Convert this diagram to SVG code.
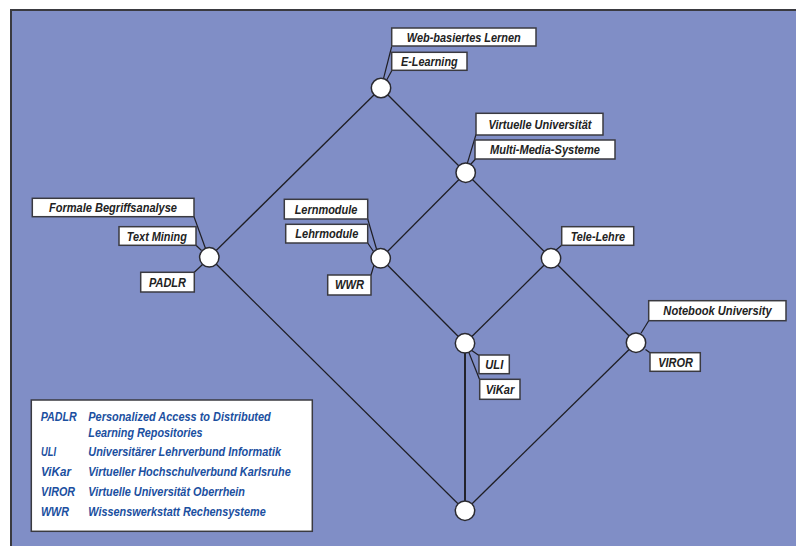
<svg xmlns="http://www.w3.org/2000/svg" width="796" height="546" viewBox="0 0 796 546">
<style>
.bg{fill:#808EC6;stroke:none}
.frame{stroke:#3a3a40;stroke-width:2;fill:none}
.edge{stroke:#1e1e24;stroke-width:1.3;fill:none}
.lead{stroke:#1e1e24;stroke-width:1.2;fill:none}
.node{fill:#fff;stroke:#2a2a30;stroke-width:1.5}
.box{fill:#fff;stroke:#3a3a40;stroke-width:1.5}
.lbl{font-family:"Liberation Sans",Arial,sans-serif;font-weight:bold;font-style:italic;font-size:12px;fill:#222;text-anchor:middle}
.leg{font-family:"Liberation Sans",Arial,sans-serif;font-weight:bold;font-style:italic;font-size:12px;fill:#1B4FA0}
</style>
<rect class="bg" x="11" y="10" width="790" height="540"/>
<path class="frame" d="M11,546 L11,10 L796,10"/>

<g id="connectors">
<line class="edge" x1="381" y1="88" x2="209.3" y2="257.3"/>
<line class="edge" x1="381" y1="88" x2="465.7" y2="172.7"/>
<line class="edge" x1="465.7" y1="172.7" x2="380.7" y2="258.3"/>
<line class="edge" x1="465.7" y1="172.7" x2="551" y2="258.3"/>
<line class="edge" x1="209.3" y1="257.3" x2="465" y2="510.7"/>
<line class="edge" x1="380.7" y1="258.3" x2="465" y2="343.3"/>
<line class="edge" x1="551" y1="258.3" x2="465" y2="343.3"/>
<line class="edge" x1="551" y1="258.3" x2="636" y2="342.7"/>
<line class="edge" x1="465" y1="343.3" x2="465" y2="510.7" style="stroke-width:1.9"/>
<line class="edge" x1="636" y1="342.7" x2="465" y2="510.7"/>
</g>

<g id="node-top">
<line class="lead" x1="383.3" y1="79.3" x2="391.7" y2="46.5"/>
<line class="lead" x1="386.7" y1="80" x2="392" y2="70.3"/>
<circle class="node" cx="381" cy="88" r="9.7"/>
<rect class="box" x="391.7" y="28" width="144.3" height="18"/>
<text class="lbl" x="463.8" y="41.5" textLength="114" lengthAdjust="spacingAndGlyphs">Web-basiertes Lernen</text>
<rect class="box" x="391.7" y="52.3" width="75.3" height="18"/>
<text class="lbl" x="429.3" y="65.8" textLength="56.7" lengthAdjust="spacingAndGlyphs">E-Learning</text>
</g>

<g id="node-mms">
<line class="lead" x1="467.3" y1="163.3" x2="476" y2="134.5"/>
<line class="lead" x1="470.5" y1="164.5" x2="475.5" y2="159"/>
<circle class="node" cx="465.7" cy="172.7" r="9.7"/>
<rect class="box" x="476" y="113.3" width="127" height="21.7"/>
<text class="lbl" x="540" y="128.5" textLength="103" lengthAdjust="spacingAndGlyphs">Virtuelle Universität</text>
<rect class="box" x="475" y="140" width="140" height="19"/>
<text class="lbl" x="545" y="153.8" textLength="110" lengthAdjust="spacingAndGlyphs">Multi-Media-Systeme</text>
</g>

<g id="node-fba">
<line class="lead" x1="194" y1="216.7" x2="205.5" y2="248.5"/>
<line class="lead" x1="196" y1="245.3" x2="201.5" y2="250.5"/>
<line class="lead" x1="202.5" y1="264.5" x2="194.3" y2="272.3"/>
<circle class="node" cx="209.3" cy="257.3" r="9.7"/>
<rect class="box" x="32.3" y="198.3" width="161.7" height="18.4"/>
<text class="lbl" x="113" y="212" textLength="128" lengthAdjust="spacingAndGlyphs">Formale Begriffsanalyse</text>
<rect class="box" x="119" y="226.7" width="77" height="18.6"/>
<text class="lbl" x="156.8" y="240.5" textLength="60" lengthAdjust="spacingAndGlyphs">Text Mining</text>
<rect class="box" x="140.7" y="272.3" width="53.6" height="19.7"/>
<text class="lbl" x="167.5" y="286.5" textLength="37" lengthAdjust="spacingAndGlyphs">PADLR</text>
</g>

<g id="node-lern">
<line class="lead" x1="367.7" y1="219" x2="376.5" y2="249"/>
<line class="lead" x1="367.7" y1="243" x2="373.5" y2="251.5"/>
<line class="lead" x1="374" y1="265" x2="371" y2="275"/>
<circle class="node" cx="380.7" cy="258.3" r="9.7"/>
<rect class="box" x="284.3" y="199.3" width="83.4" height="19.7"/>
<text class="lbl" x="326" y="213.5" textLength="62.7" lengthAdjust="spacingAndGlyphs">Lernmodule</text>
<rect class="box" x="285.7" y="224.3" width="82" height="18.7"/>
<text class="lbl" x="326.8" y="238" textLength="63" lengthAdjust="spacingAndGlyphs">Lehrmodule</text>
<rect class="box" x="327.7" y="275" width="43.3" height="20"/>
<text class="lbl" x="349.5" y="289.3" textLength="29" lengthAdjust="spacingAndGlyphs">WWR</text>
</g>

<g id="node-tele">
<line class="lead" x1="556" y1="250" x2="561.7" y2="245.3"/>
<circle class="node" cx="551" cy="258.3" r="9.7"/>
<rect class="box" x="561.7" y="226.7" width="72" height="18.6"/>
<text class="lbl" x="597.8" y="240.5" textLength="54.3" lengthAdjust="spacingAndGlyphs">Tele-Lehre</text>
</g>

<g id="node-uli">
<line class="lead" x1="470" y1="349.3" x2="479" y2="355.5"/>
<line class="lead" x1="468.3" y1="351" x2="479.7" y2="379.8"/>
<circle class="node" cx="465" cy="343.3" r="9.7"/>
<rect class="box" x="479" y="355" width="30.3" height="18.7"/>
<text class="lbl" x="494.3" y="369" textLength="18" lengthAdjust="spacingAndGlyphs">ULI</text>
<rect class="box" x="479.7" y="379.3" width="40.3" height="20"/>
<text class="lbl" x="500" y="393.5" textLength="28.7" lengthAdjust="spacingAndGlyphs">ViKar</text>
</g>

<g id="node-viror">
<line class="lead" x1="641" y1="333.3" x2="648.7" y2="320.7"/>
<line class="lead" x1="645.5" y1="349.5" x2="650" y2="352.7"/>
<circle class="node" cx="636" cy="342.7" r="9.7"/>
<rect class="box" x="648.7" y="300.7" width="137.3" height="20"/>
<text class="lbl" x="717.5" y="315" textLength="108.3" lengthAdjust="spacingAndGlyphs">Notebook University</text>
<rect class="box" x="650" y="352.7" width="50.3" height="18.6"/>
<text class="lbl" x="675.5" y="366.5" textLength="34.7" lengthAdjust="spacingAndGlyphs">VIROR</text>
</g>

<g id="node-bottom">
<circle class="node" cx="465" cy="510.7" r="9.7"/>
</g>

<g id="legend">
<rect class="box" x="31.3" y="400" width="281" height="131.3"/>
<text class="leg" x="40.7" y="421" textLength="36" lengthAdjust="spacingAndGlyphs">PADLR</text>
<text class="leg" x="88.3" y="421" textLength="182.4" lengthAdjust="spacingAndGlyphs">Personalized Access to Distributed</text>
<text class="leg" x="88.3" y="436.5" textLength="114.3" lengthAdjust="spacingAndGlyphs">Learning Repositories</text>
<text class="leg" x="41" y="455.8" textLength="15" lengthAdjust="spacingAndGlyphs">ULI</text>
<text class="leg" x="88.3" y="455.8" textLength="192.7" lengthAdjust="spacingAndGlyphs">Universitärer Lehrverbund Informatik</text>
<text class="leg" x="41" y="475.8" textLength="30" lengthAdjust="spacingAndGlyphs">ViKar</text>
<text class="leg" x="88.3" y="475.8" textLength="202.4" lengthAdjust="spacingAndGlyphs">Virtueller Hochschulverbund Karlsruhe</text>
<text class="leg" x="41" y="495.8" textLength="34" lengthAdjust="spacingAndGlyphs">VIROR</text>
<text class="leg" x="88.3" y="495.8" textLength="156.7" lengthAdjust="spacingAndGlyphs">Virtuelle Universität Oberrhein</text>
<text class="leg" x="41" y="515.8" textLength="28" lengthAdjust="spacingAndGlyphs">WWR</text>
<text class="leg" x="88.3" y="515.8" textLength="177.4" lengthAdjust="spacingAndGlyphs">Wissenswerkstatt Rechensysteme</text>
</g>
</svg>
